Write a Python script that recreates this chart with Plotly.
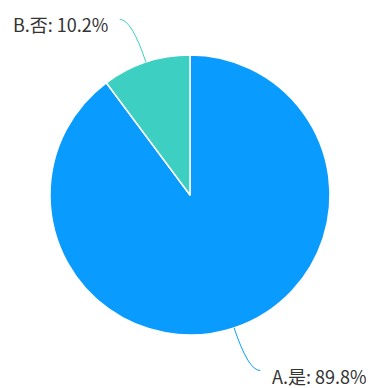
import math
import plotly.graph_objects as go

labels = ["A.是", "B.否"]
values = [89.8, 10.2]
colors = ["#0a9bfe", "#3dcfc2"]

# page body adds 8px, so the figure is drawn shifted by that much
OFF = 8
W, H = 374 - OFF, 388 - OFF
L, R, T, B = 50 - OFF, 44, 55 - OFF, 53
PW, PH = W - L - R, H - T - B
cx, cy = L + PW / 2, T + PH / 2
rad = min(PW, PH) / 2


def to_paper(px, py):
    return (px - L) / PW, 1 - (py - T) / PH


fig = go.Figure(
    go.Pie(
        labels=labels,
        values=values,
        sort=False,
        direction="clockwise",
        rotation=0,
        textinfo="none",
        hoverinfo="label+percent",
        marker=dict(colors=colors, line=dict(color="white", width=1.5)),
        showlegend=False,
    )
)

total = sum(values)
start = 0.0
for lab, val, col in zip(labels, values, colors):
    frac = val / total
    mid = (start + frac / 2) * 2 * math.pi
    start += frac
    dx, dy = math.sin(mid), -math.cos(mid)
    p0 = (cx + rad * dx, cy + rad * dy)
    elbow = (p0[0] + 45 * dx, p0[1] + 45 * dy)
    side = 1 if dx >= 0 else -1
    end = (elbow[0] + 12 * side, elbow[1])
    a = to_paper(*p0)
    b = to_paper(*elbow)
    c = to_paper(*end)
    fig.add_shape(
        type="path",
        xref="paper", yref="paper",
        path=f"M {a[0]},{a[1]} Q {b[0]},{b[1]} {c[0]},{c[1]}",
        line=dict(color=col, width=1),
    )
    t = to_paper(end[0] + 10 * side, end[1] + 5)
    fig.add_annotation(
        x=t[0], y=t[1], xref="paper", yref="paper",
        text=f"{lab}: {val:.1f}%",
        showarrow=False,
        xanchor="left" if side > 0 else "right",
        yanchor="middle",
        font=dict(size=18, color="#333333"),
    )

fig.update_layout(
    width=W,
    height=H,
    margin=dict(l=L, r=R, t=T, b=B),
    paper_bgcolor="white",
    plot_bgcolor="white",
    font=dict(family="Noto Sans CJK SC, Microsoft YaHei, sans-serif"),
)

fig.write_html("out.html")
